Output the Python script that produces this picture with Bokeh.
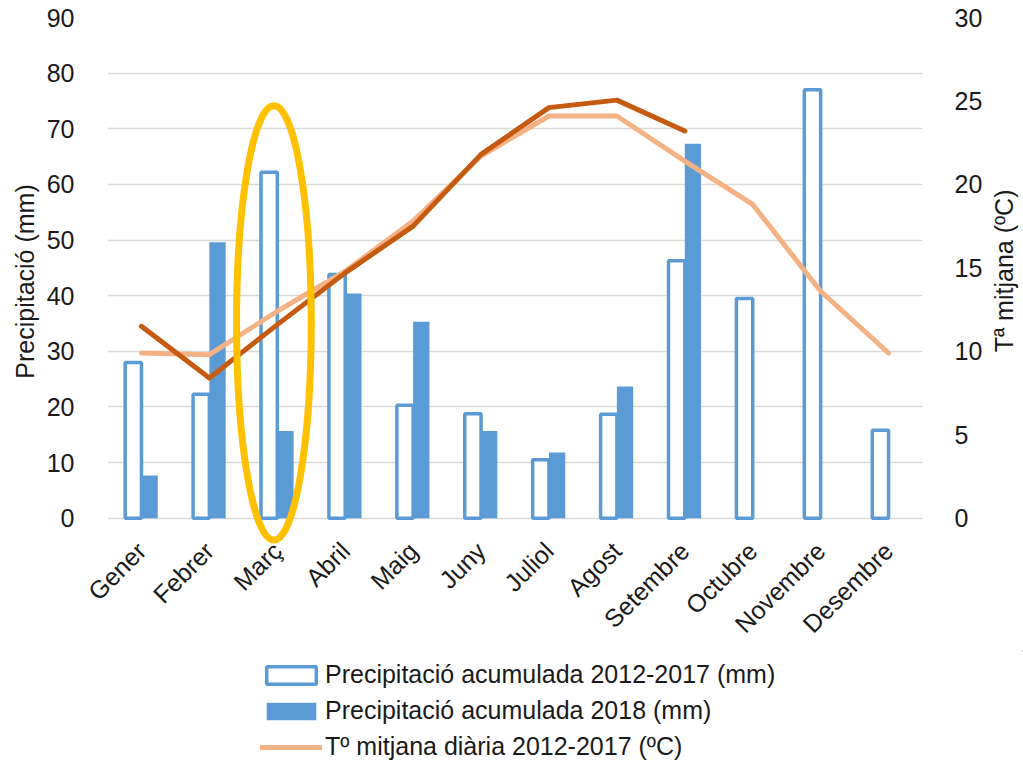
import math
from bokeh.plotting import figure
from bokeh.layouts import row, column
from bokeh.models import (Range1d, LinearAxis, FixedTicker, ColumnDataSource,
                          Legend, LegendItem)
from bokeh.core.properties import value
from bokeh.transform import dodge
from bokeh.embed import file_html
from bokeh.resources import INLINE

# ---------------- data ----------------
months = ["Gener", "Febrer", "Març", "Abril", "Maig", "Juny", "Juliol",
          "Agost", "Setembre", "Octubre", "Novembre", "Desembre"]
prec_2012_2017 = [28.0, 22.3, 62.2, 43.8, 20.3, 18.8, 10.5, 18.7, 46.3, 39.5, 77.0, 15.8]
months_2018 = months[:9]
prec_2018 = [7.7, 49.6, 15.7, 40.4, 35.3, 15.7, 11.8, 23.7, 67.3]
temp_2012_2017 = [9.9, 9.8, 12.4, 14.8, 17.8, 21.7, 24.1, 24.1, 21.4, 18.8, 13.6, 9.9]
temp_2018 = [11.5, 8.4, 11.6, 14.7, 17.5, 21.8, 24.6, 25.05, 23.2]
prec_ticks = [0, 10, 20, 30, 40, 50, 60, 70, 80, 90]
temp_ticks = [0, 5, 10, 15, 20, 25, 30]

label_prec_a = "Precipitació acumulada 2012-2017 (mm)"
label_prec_b = "Precipitació acumulada 2018 (mm)"
label_temp_a = "Tº mitjana diària 2012-2017 (ºC)"
title_left = "Precipitació (mm)"
title_right = "Tª mitjana (ºC)"
highlight_month = "Març"

# ---------------- style ----------------
FONT = "Liberation Sans"
TXT = "#1a1a1a"
BLUE = "#5B9BD5"
LIGHT_OR = "#F4B183"
DARK_OR = "#C55A11"
YELLOW = "#FFC000"
GRID = "#D9D9D9"

W_MAIN, W_SIDE = 985, 38
H_MAIN, H_LEG = 650, 111

src_a = ColumnDataSource(dict(m=months, p=prec_2012_2017, t=temp_2012_2017))
src_b = ColumnDataSource(dict(m=months_2018, p=prec_2018, t=temp_2018))

y_lo = -4.9
p = figure(x_range=months, y_range=Range1d(y_lo, 90), width=W_MAIN, height=H_MAIN,
           output_backend="svg", toolbar_location=None,
           min_border_left=107, min_border_right=W_MAIN - 925, min_border_top=17,
           min_border_bottom=H_MAIN - 551)
p.extra_y_ranges = {"temp": Range1d(y_lo / 3.0, 30)}
p.outline_line_color = None

# grid
p.xgrid.grid_line_color = None
p.ygrid.ticker = FixedTicker(ticks=prec_ticks)
p.ygrid.grid_line_color = GRID
p.ygrid.grid_line_width = 1.6

# styles
w = 0.24
bar_a_style = dict(fill_color="white", line_color=BLUE, line_width=3.5)
bar_b_style = dict(fill_color=BLUE, line_color=None)
line_a_style = dict(line_color=LIGHT_OR, line_width=5, line_join="round", line_cap="round")
line_b_style = dict(line_color=DARK_OR, line_width=5, line_join="round", line_cap="round")

# bars
p.vbar(x=dodge("m", -0.12, range=p.x_range), top="p", bottom=0, width=w,
       source=src_a, **bar_a_style)
p.vbar(x=dodge("m", 0.12, range=p.x_range), top="p", bottom=0, width=w,
       source=src_b, **bar_b_style)

# temperature lines
p.line(x="m", y="t", source=src_a, y_range_name="temp", **line_a_style)
p.line(x="m", y="t", source=src_b, y_range_name="temp", **line_b_style)

# highlight ellipse around March
ell = ColumnDataSource(dict(m=[highlight_month]))
p.ellipse(x=dodge("m", -0.05, range=p.x_range), y=35.1, width=1.1, height=78.1,
          source=ell, fill_color=None, line_color=YELLOW, line_width=7)

# axes
ya = p.yaxis[0]
ya.ticker = FixedTicker(ticks=prec_ticks)
ya.axis_label = title_left
ya.axis_line_color = None
ya.major_tick_line_color = None
ya.minor_tick_line_color = None
ya.major_label_standoff = 27
ya.axis_label_standoff = 5

yr = LinearAxis(y_range_name="temp", ticker=FixedTicker(ticks=temp_ticks))
yr.axis_line_color = None
yr.major_tick_line_color = None
yr.minor_tick_line_color = None
yr.major_label_standoff = 26
p.add_layout(yr, "right")

xa = p.xaxis[0]
xa.axis_line_color = None
xa.major_tick_line_color = None
xa.major_label_orientation = math.pi / 4
xa.major_label_standoff = -5

for ax in (ya, yr, xa):
    ax.major_label_text_font = FONT
    ax.major_label_text_font_size = "25px"
    ax.major_label_text_color = TXT
    ax.axis_label_text_font = FONT
    ax.axis_label_text_font_size = "25px"
    ax.axis_label_text_font_style = "normal"
    ax.axis_label_text_color = TXT

# narrow strip on the right holding the right-axis title (reads bottom to top)
p2 = figure(width=W_SIDE, height=H_MAIN, x_range=Range1d(W_MAIN, W_MAIN + W_SIDE),
            y_range=Range1d(H_MAIN, 0), output_backend="svg", toolbar_location=None,
            x_axis_location=None, y_axis_location=None, min_border=0)
p2.outline_line_color = None
p2.grid.visible = False
p2.text(x=[1003], y=[312], text=[title_right], angle=math.pi / 2,
        text_align="center", text_baseline="middle",
        text_font=value(FONT), text_font_size="25px", text_color=TXT)

# legend strip below the chart (sample glyphs sit outside the visible ranges)
p3 = figure(width=W_MAIN + W_SIDE, height=H_LEG, x_range=Range1d(0, 1),
            y_range=Range1d(0, 1), output_backend="svg", toolbar_location=None,
            x_axis_location=None, y_axis_location=None, min_border=0)
p3.outline_line_color = None
p3.grid.visible = False
k_a = p3.vbar(x=[10], top=[10], bottom=[9], width=0.1, **bar_a_style)
k_b = p3.vbar(x=[10], top=[10], bottom=[9], width=0.1, **bar_b_style)
k_t = p3.line(x=[10, 11], y=[10, 10], **line_a_style)
legend = Legend(items=[LegendItem(label=label_prec_a, renderers=[k_a]),
                       LegendItem(label=label_prec_b, renderers=[k_b]),
                       LegendItem(label=label_temp_a, renderers=[k_t])],
                location=(260, 0), orientation="vertical",
                glyph_width=62, glyph_height=22, label_standoff=3, spacing=7,
                padding=0, margin=0, border_line_color=None,
                background_fill_alpha=0,
                label_text_font=FONT, label_text_font_size="25px",
                label_text_color=TXT)
p3.add_layout(legend, "center")

layout = column(row(p, p2, spacing=0), p3, spacing=0)
open("out.html", "w").write(file_html(layout, INLINE))
